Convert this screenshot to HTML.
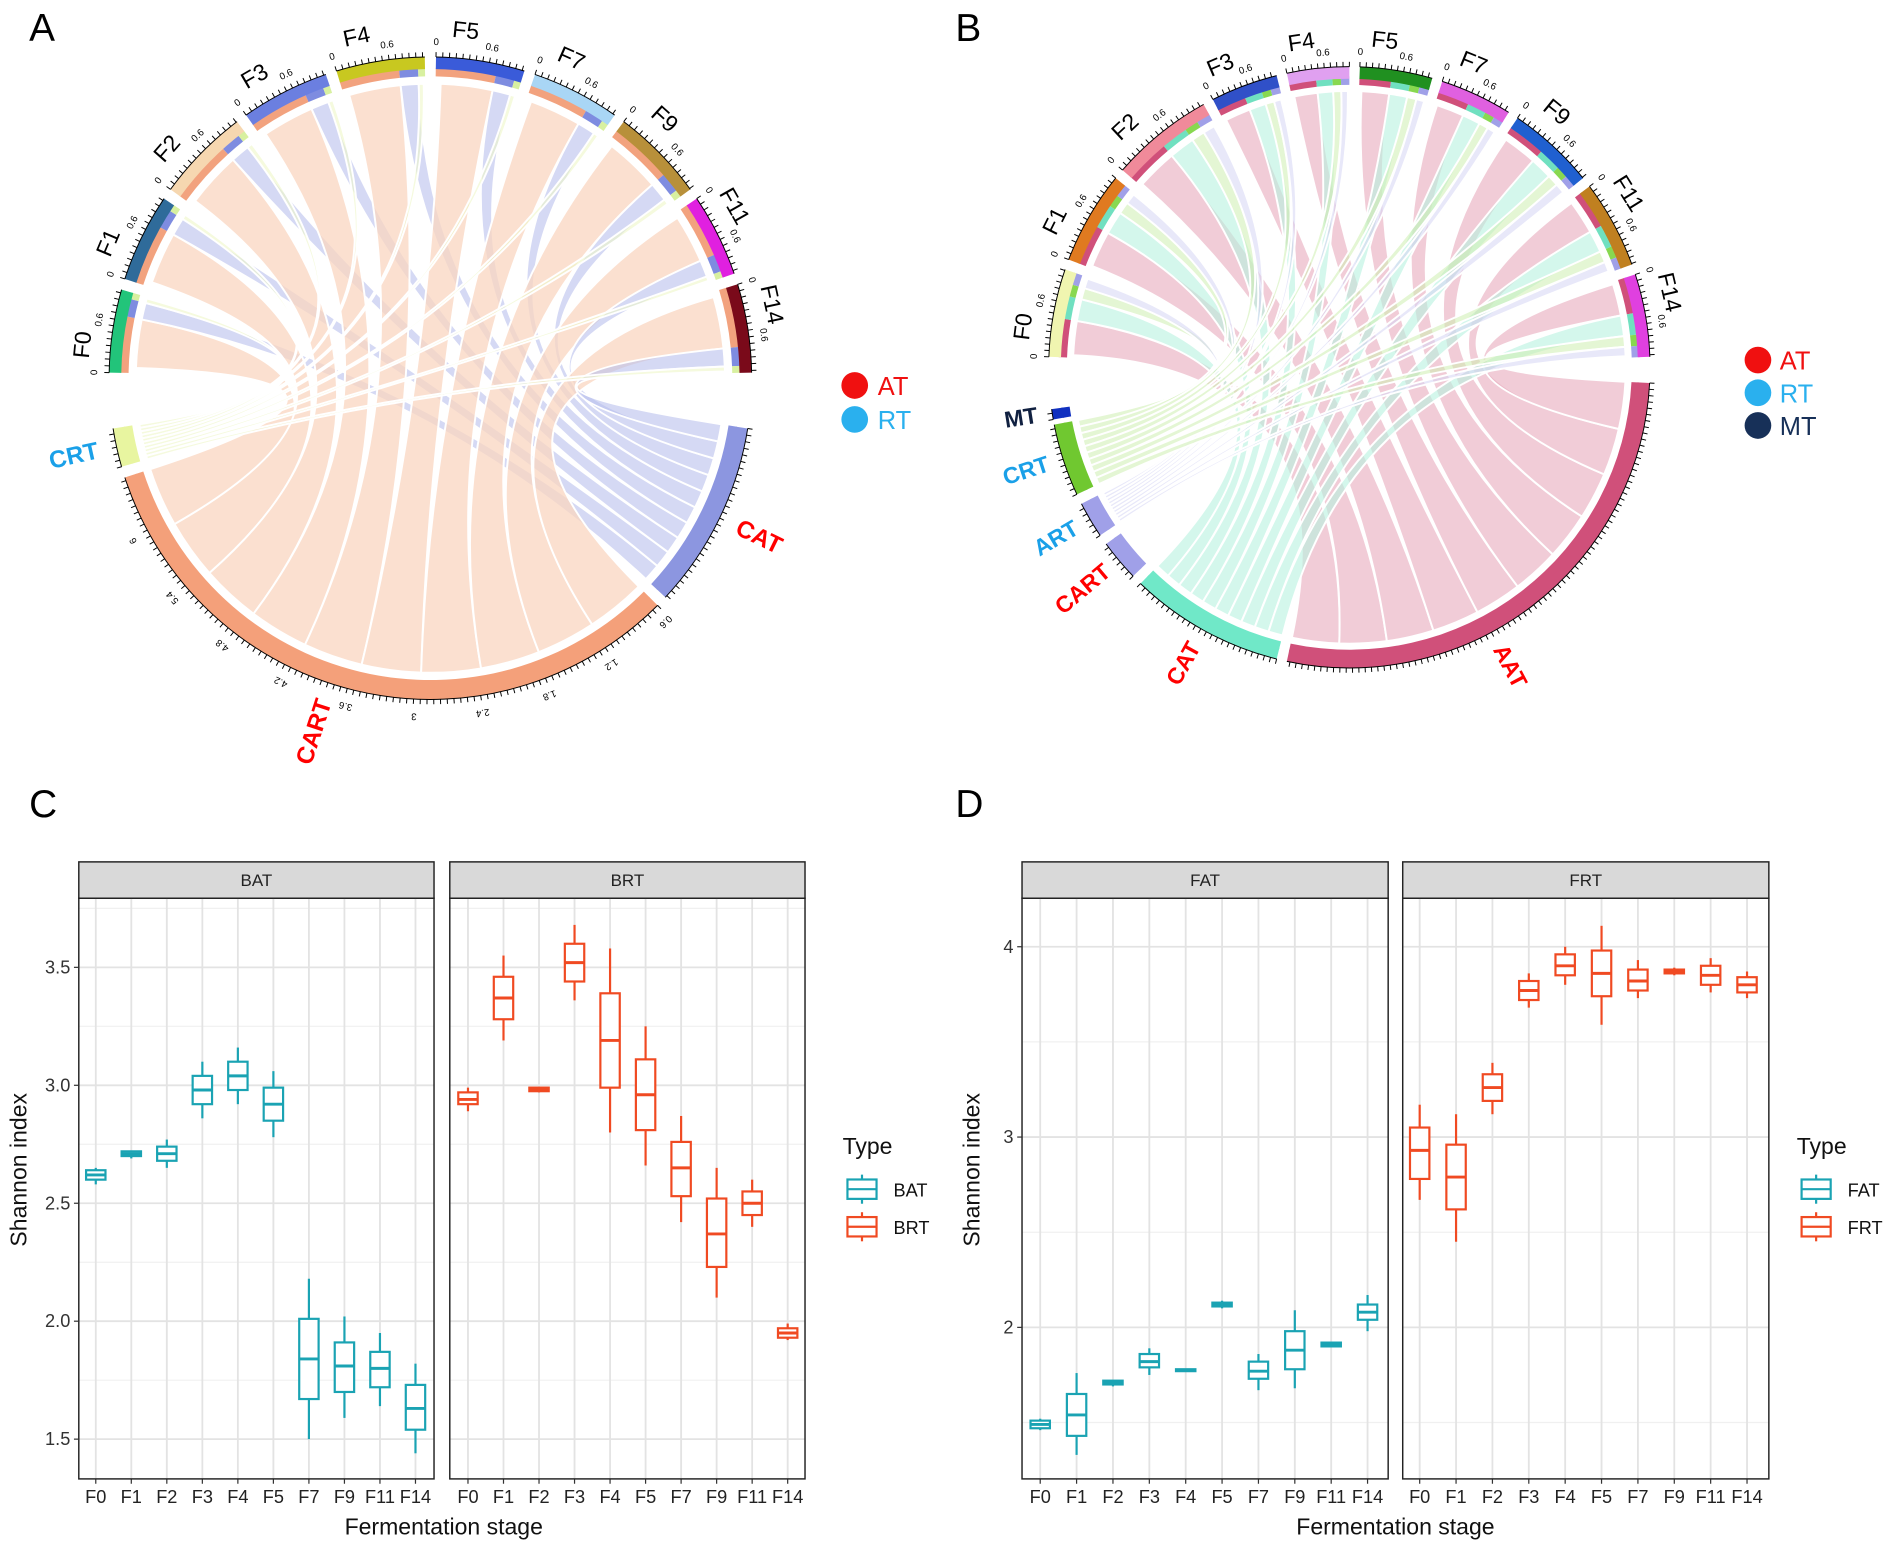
<!DOCTYPE html>
<html><head><meta charset="utf-8">
<style>
html,body{margin:0;padding:0;background:#fff;}
svg{display:block;font-family:"Liberation Sans",Arial,sans-serif;}
</style></head>
<body>
<svg id="s" width="1901" height="1548" viewBox="0 0 1568 1277" preserveAspectRatio="none" xmlns="http://www.w3.org/2000/svg">
<rect width="1568" height="1277" fill="#fff"/>
<text x="24" y="34" font-size="32">A</text>
<text x="788" y="34" font-size="32">B</text>
<text x="24" y="674" font-size="32">C</text>
<text x="788" y="674" font-size="32">D</text>
</svg>
<script>
const S=document.getElementById('s');const NS='http://www.w3.org/2000/svg';
function el(t,a,p){const e=document.createElementNS(NS,t);for(const k in a)e.setAttribute(k,a[k]);(p||S).appendChild(e);return e;}
function txt(x,y,s,a){const e=el('text',Object.assign({x:x,y:y},a||{}));e.textContent=s;return e;}
const R=Math.PI/180;
function P(cx,cy,r,a){return [cx+r*Math.cos(a*R),cy+r*Math.sin(a*R)];}
function annulus(cx,cy,r1,r2,a1,a2,fill){
 const l=(a2-a1)>180?1:0;const p1=P(cx,cy,r2,a1),p2=P(cx,cy,r2,a2),p3=P(cx,cy,r1,a2),p4=P(cx,cy,r1,a1);
 el('path',{d:`M${p1} A${r2} ${r2} 0 ${l} 1 ${p2} L${p3} A${r1} ${r1} 0 ${l} 0 ${p4}Z`,fill:fill});}
function ribbon(cx,cy,r,a1,a2,b1,b2,fill,op){
 const A1=P(cx,cy,r,a1),A2=P(cx,cy,r,a2),B1=P(cx,cy,r,b1),B2=P(cx,cy,r,b2);
 el('path',{d:`M${A1} A${r} ${r} 0 0 1 ${A2} Q${cx} ${cy} ${B1} A${r} ${r} 0 0 1 ${B2} Q${cx} ${cy} ${A1}Z`,fill:fill,'fill-opacity':op,stroke:'#fff','stroke-width':1.6});}
function ticks(cx,cy,r,a1,a2,step){
 for(let a=a1;a<=a2;a+=step){const p=P(cx,cy,r,a),q=P(cx,cy,r+4,a);el('line',{x1:p[0],y1:p[1],x2:q[0],y2:q[1],stroke:'#000','stroke-width':0.8});}
 const p=P(cx,cy,r,a1),q=P(cx,cy,r,a2);const l=(a2-a1)>180?1:0;
 el('path',{d:`M${p} A${r} ${r} 0 ${l} 1 ${q}`,fill:'none',stroke:'#000','stroke-width':0.8});}
function lab(cx,cy,r,a,s,attrs){const p=P(cx,cy,r,a);let rot=a+90;
 txt(p[0],p[1],s,Object.assign({'text-anchor':'middle','dominant-baseline':'middle',transform:`rotate(${rot} ${p[0]} ${p[1]})`},attrs));}
function labR(cx,cy,r,a,s,attrs){const p=P(cx,cy,r,a);let rot=a<90?a:a-180;
 txt(p[0],p[1],s,Object.assign({'text-anchor':'middle','dominant-baseline':'middle',transform:`rotate(${rot} ${p[0]} ${p[1]})`},attrs));}

/* ===== Chord A ===== */
(function(){
const cx=355,cy=312,ro=265,rt=253,rc=243;
const top=[['F0',181,196,'#22c47a'],['F1',198,214,'#2f6b9a'],['F2',216,233,'#f6d7b0'],['F3',235,251,'#6b7fe0'],['F4',253,269,'#c8c820'],['F5',271,287,'#3a5bd9'],['F7',289,305,'#a9d6f5'],['F9',307,324,'#b8903a'],['F11',326,341,'#e020e0'],['F14',343,359,'#7a0a1a']];
const bot=[['CAT',9,43,'#8c96e0','red'],['CART',45,162,'#f4a07a','red'],['CRT',164,171,'#e8f5a0','#1aa0e8']];
const n=top.length;
const cartW=117/n,catW=34/n,crtW=7/n;
top.forEach((s,i)=>{const a=s[1],b=s[2],w=b-a;
 const o1=a+1,o2=a+w*0.70, bl1=o2, bl2=o2+w*0.22, g1=bl2,g2=b-0.3;
 ribbon(cx,cy,rc,o1,o2,162-(i+1)*cartW,162-i*cartW,'#f9d5c0',0.75);
 ribbon(cx,cy,rc,bl1,bl2,43-(i+1)*catW,43-i*catW,'#b9bfec',0.6);
 ribbon(cx,cy,rc,g1,g2,171-(i+1)*crtW,171-i*crtW,'#eef6c8',0.6);
 annulus(cx,cy,rt-4,rt+3,a,o2,'#f2a27e');annulus(cx,cy,rt-4,rt+3,bl1,bl2,'#7e8ce0');annulus(cx,cy,rt-4,rt+3,g1,b,'#d8f0a0');
 annulus(cx,cy,ro-10,ro,a,b,s[3]);ticks(cx,cy,ro,a,b,1.2);
 lab(cx,cy,ro+22,a+w*0.3,s[0],{'font-size':19});
 lab(cx,cy,ro+12,a,'0',{'font-size':8});lab(cx,cy,ro+12,a+w*0.6,'0.6',{'font-size':8});
});
bot.forEach(s=>{annulus(cx,cy,ro-10,ro,s[1],s[2],s[3]);annulus(cx,cy,rt-4,rt+3,s[1],s[2],s[3]);ticks(cx,cy,ro,s[1],s[2],1.2);
 const m=(s[1]+s[2])/2;labR(cx,cy,ro+18+s[0].length*6,s[0]=='CART'?108:m,s[0],{'font-size':20,'font-weight':'bold',fill:s[4]});});
for(let k=0;k<10;k++){lab(cx,cy,ro+14,46+k*11.7,['0.6','1.2','1.8','2.4','3','3.6','4.2','4.8','5.4','6'][k],{'font-size':8});}
el('circle',{cx:705,cy:318,r:11,fill:'#f01010'});txt(724,326,'AT',{'font-size':21,fill:'#f01010'});
el('circle',{cx:705,cy:346,r:11,fill:'#2ab0ee'});txt(724,354,'RT',{'font-size':21,fill:'#2ab0ee'});
})();

/* ===== Chord B ===== */
(function(){
const cx=1113,cy=303,ro=248,rt=237,rc=228;
const top=[['F0',182,199,'#f0f5b0'],['F1',201,219,'#e07a20'],['F2',221,241,'#f08a9a'],['F3',243,256,'#3050c8'],['F4',258,270,'#e0a0f0'],['F5',272,286,'#209020'],['F7',288,302,'#e060e0'],['F9',304,321,'#2060d0'],['F11',323,340,'#c08020'],['F14',342,358,'#e040e0']];
const bot=[['AAT',3,102,'#d0507a','red'],['CAT',104,134,'#70e8c8','red'],['CART',136,144,'#a0a0e8','red'],['ART',146,153,'#a0a0e8','#1aa0e8'],['CRT',155,169,'#70c830','#1aa0e8'],['MT',170,172,'#1030c0','#102040']];
top.forEach((s,i)=>{const a=s[1],b=s[2],w=b-a;
 const p1=a+w*0.45, c1=a+w*0.72, g1=a+w*0.86;
 ribbon(cx,cy,rc,a+0.5,p1,102-(i+1)*9.9,102-i*9.9,'#eab0c2',0.65);
 ribbon(cx,cy,rc,p1,c1,134-(i+1)*3,134-i*3,'#b8f2e0',0.6);
 ribbon(cx,cy,rc,c1,g1,169-(i+1)*1.4,169-i*1.4,'#cdeeb0',0.55);
 ribbon(cx,cy,rc,g1,b-0.3,153-(i+1)*0.7,153-i*0.7,'#d6d6f4',0.55);
 annulus(cx,cy,rt-4,rt+3,a,p1,'#d0507a');annulus(cx,cy,rt-4,rt+3,p1,c1,'#70e0c0');annulus(cx,cy,rt-4,rt+3,c1,g1,'#88d850');annulus(cx,cy,rt-4,rt+3,g1,b,'#a0a0e8');
 annulus(cx,cy,ro-10,ro,a,b,s[3]);ticks(cx,cy,ro,a,b,1.2);
 lab(cx,cy,ro+22,a+w*0.3,s[0],{'font-size':19});
 lab(cx,cy,ro+12,a,'0',{'font-size':8});lab(cx,cy,ro+12,a+w*0.6,'0.6',{'font-size':8});
});
bot.forEach(s=>{annulus(cx,cy,ro-10,ro,s[1],s[2],s[3]);annulus(cx,cy,rt-4,rt+3,s[1],s[2],s[3]);ticks(cx,cy,ro,s[1],s[2],1.2);
 const m=(s[1]+s[2])/2;labR(cx,cy,ro+14+s[0].length*6,s[0]=='AAT'?62:m,s[0],{'font-size':19,'font-weight':'bold',fill:s[4]});});
el('circle',{cx:1450,cy:297,r:11,fill:'#f01010'});txt(1468,305,'AT',{'font-size':21,fill:'#f01010'});
el('circle',{cx:1450,cy:324,r:11,fill:'#2ab0ee'});txt(1468,332,'RT',{'font-size':21,fill:'#2ab0ee'});
el('circle',{cx:1450,cy:351,r:11,fill:'#173058'});txt(1468,359,'MT',{'font-size':21,fill:'#173058'});
})();

/* ===== Box plots ===== */
const TEAL='#1aa3b3',RED='#f04a22';
const XL=['F0','F1','F2','F3','F4','F5','F7','F9','F11','F14'];
function facet(x0,x1,ytop,ybot,strip,yv,data,color,major,minor,xstart,dx,ylabels){
 el('rect',{x:x0,y:ytop,width:x1-x0,height:30,fill:'#d9d9d9',stroke:'#222','stroke-width':1.2});
 txt((x0+x1)/2,ytop+20,strip,{'font-size':14,'text-anchor':'middle',fill:'#222'});
 const py=ytop+30;
 minor.forEach(v=>{const y=yv(v);el('line',{x1:x0,x2:x1,y1:y,y2:y,stroke:'#f0f0f0','stroke-width':1});});
 major.forEach(v=>{const y=yv(v);el('line',{x1:x0,x2:x1,y1:y,y2:y,stroke:'#e3e3e3','stroke-width':1.5});});
 for(let i=0;i<10;i++){const x=xstart+i*dx;el('line',{x1:x,x2:x,y1:py,y2:ybot,stroke:'#e3e3e3','stroke-width':1.5});
  el('line',{x1:x,x2:x,y1:ybot,y2:ybot+4,stroke:'#333'});
  txt(x,ybot+20,XL[i],{'font-size':15,'text-anchor':'middle',fill:'#222'});}
 data.forEach((d,i)=>{const x=xstart+i*dx,hw=8;const [lo,q1,m,q3,hi]=d.map(yv);
  el('line',{x1:x,x2:x,y1:lo,y2:q1,stroke:color,'stroke-width':1.8});
  el('line',{x1:x,x2:x,y1:q3,y2:hi,stroke:color,'stroke-width':1.8});
  el('rect',{x:x-hw,y:q3,width:2*hw,height:Math.max(q1-q3,1),fill:'#fff',stroke:color,'stroke-width':1.8});
  el('line',{x1:x-hw,x2:x+hw,y1:m,y2:m,stroke:color,'stroke-width':2.4});});
 el('rect',{x:x0,y:py,width:x1-x0,height:ybot-py,fill:'none',stroke:'#222','stroke-width':1.2});
 if(ylabels){major.forEach(v=>{const y=yv(v);el('line',{x1:x0-4,x2:x0,y1:y,y2:y,stroke:'#333'});
  txt(x0-7,y+5,ylabels(v),{'font-size':15,'text-anchor':'end',fill:'#333'});});}
}
const yC=v=>798+(3.5-v)*194.6;
const BAT=[[2.58,2.60,2.62,2.64,2.65],[2.69,2.70,2.71,2.72,2.72],[2.65,2.68,2.71,2.74,2.77],[2.86,2.92,2.98,3.04,3.10],[2.92,2.98,3.04,3.10,3.16],[2.78,2.85,2.92,2.99,3.06],[1.50,1.67,1.84,2.01,2.18],[1.59,1.70,1.81,1.91,2.02],[1.64,1.72,1.80,1.87,1.95],[1.44,1.54,1.63,1.73,1.82]];
const BRT=[[2.89,2.92,2.94,2.97,2.99],[3.19,3.28,3.37,3.46,3.55],[2.97,2.975,2.98,2.99,2.99],[3.36,3.44,3.52,3.60,3.68],[2.80,2.99,3.19,3.39,3.58],[2.66,2.81,2.96,3.11,3.25],[2.42,2.53,2.65,2.76,2.87],[2.10,2.23,2.37,2.52,2.65],[2.40,2.45,2.50,2.55,2.60],[1.92,1.93,1.95,1.97,1.99]];
facet(65,358,711,1220,'BAT',yC,BAT,TEAL,[1.5,2,2.5,3,3.5],[1.75,2.25,2.75,3.25,3.75],79,29.3,v=>v.toFixed(1));
facet(371,664,711,1220,'BRT',yC,BRT,RED,[1.5,2,2.5,3,3.5],[1.75,2.25,2.75,3.25,3.75],386,29.3,null);
txt(366,1266,'Fermentation stage',{'font-size':19,'text-anchor':'middle',fill:'#111'});
txt(22,965,'Shannon index',{'font-size':19,'text-anchor':'middle',fill:'#111',transform:'rotate(-90 22 965)'});
const yD=v=>781+(4-v)*157;
const FAT=[[1.46,1.47,1.49,1.51,1.52],[1.33,1.43,1.54,1.65,1.76],[1.69,1.70,1.71,1.72,1.72],[1.75,1.79,1.82,1.86,1.89],[1.77,1.77,1.775,1.78,1.78],[2.10,2.11,2.12,2.13,2.14],[1.67,1.73,1.77,1.82,1.86],[1.68,1.78,1.88,1.98,2.09],[1.90,1.90,1.91,1.92,1.92],[1.98,2.04,2.08,2.12,2.17]];
const FRT=[[2.67,2.78,2.93,3.05,3.17],[2.45,2.62,2.79,2.96,3.12],[3.12,3.19,3.26,3.33,3.39],[3.68,3.72,3.77,3.82,3.86],[3.80,3.85,3.90,3.96,4.00],[3.59,3.74,3.86,3.98,4.11],[3.73,3.77,3.82,3.88,3.93],[3.85,3.86,3.87,3.88,3.89],[3.76,3.80,3.85,3.90,3.94],[3.73,3.76,3.80,3.84,3.87]];
facet(843,1145,711,1220,'FAT',yD,FAT,TEAL,[2,3,4],[1.5,2.5,3.5],858,30,v=>String(v));
facet(1157,1459,711,1220,'FRT',yD,FRT,RED,[2,3,4],[1.5,2.5,3.5],1171,30,null);
txt(1151,1266,'Fermentation stage',{'font-size':19,'text-anchor':'middle',fill:'#111'});
txt(808,965,'Shannon index',{'font-size':19,'text-anchor':'middle',fill:'#111',transform:'rotate(-90 808 965)'});
function legend(x,labels){txt(x,952,'Type',{'font-size':19,fill:'#111'});
 [[TEAL,981],[RED,1012]].forEach((c,i)=>{const y=c[1];el('rect',{x:x+4,y:y-8,width:24,height:16,fill:'#fff',stroke:c[0],'stroke-width':1.8});
  el('line',{x1:x+4,x2:x+28,y1:y,y2:y,stroke:c[0],'stroke-width':1.8});
  el('line',{x1:x+16,x2:x+16,y1:y-12,y2:y-8,stroke:c[0],'stroke-width':1.8});el('line',{x1:x+16,x2:x+16,y1:y+8,y2:y+12,stroke:c[0],'stroke-width':1.8});
  txt(x+42,y+6,labels[i],{'font-size':15,fill:'#111'});});}
legend(695,['BAT','BRT']);legend(1482,['FAT','FRT']);
</script>
</body></html>
